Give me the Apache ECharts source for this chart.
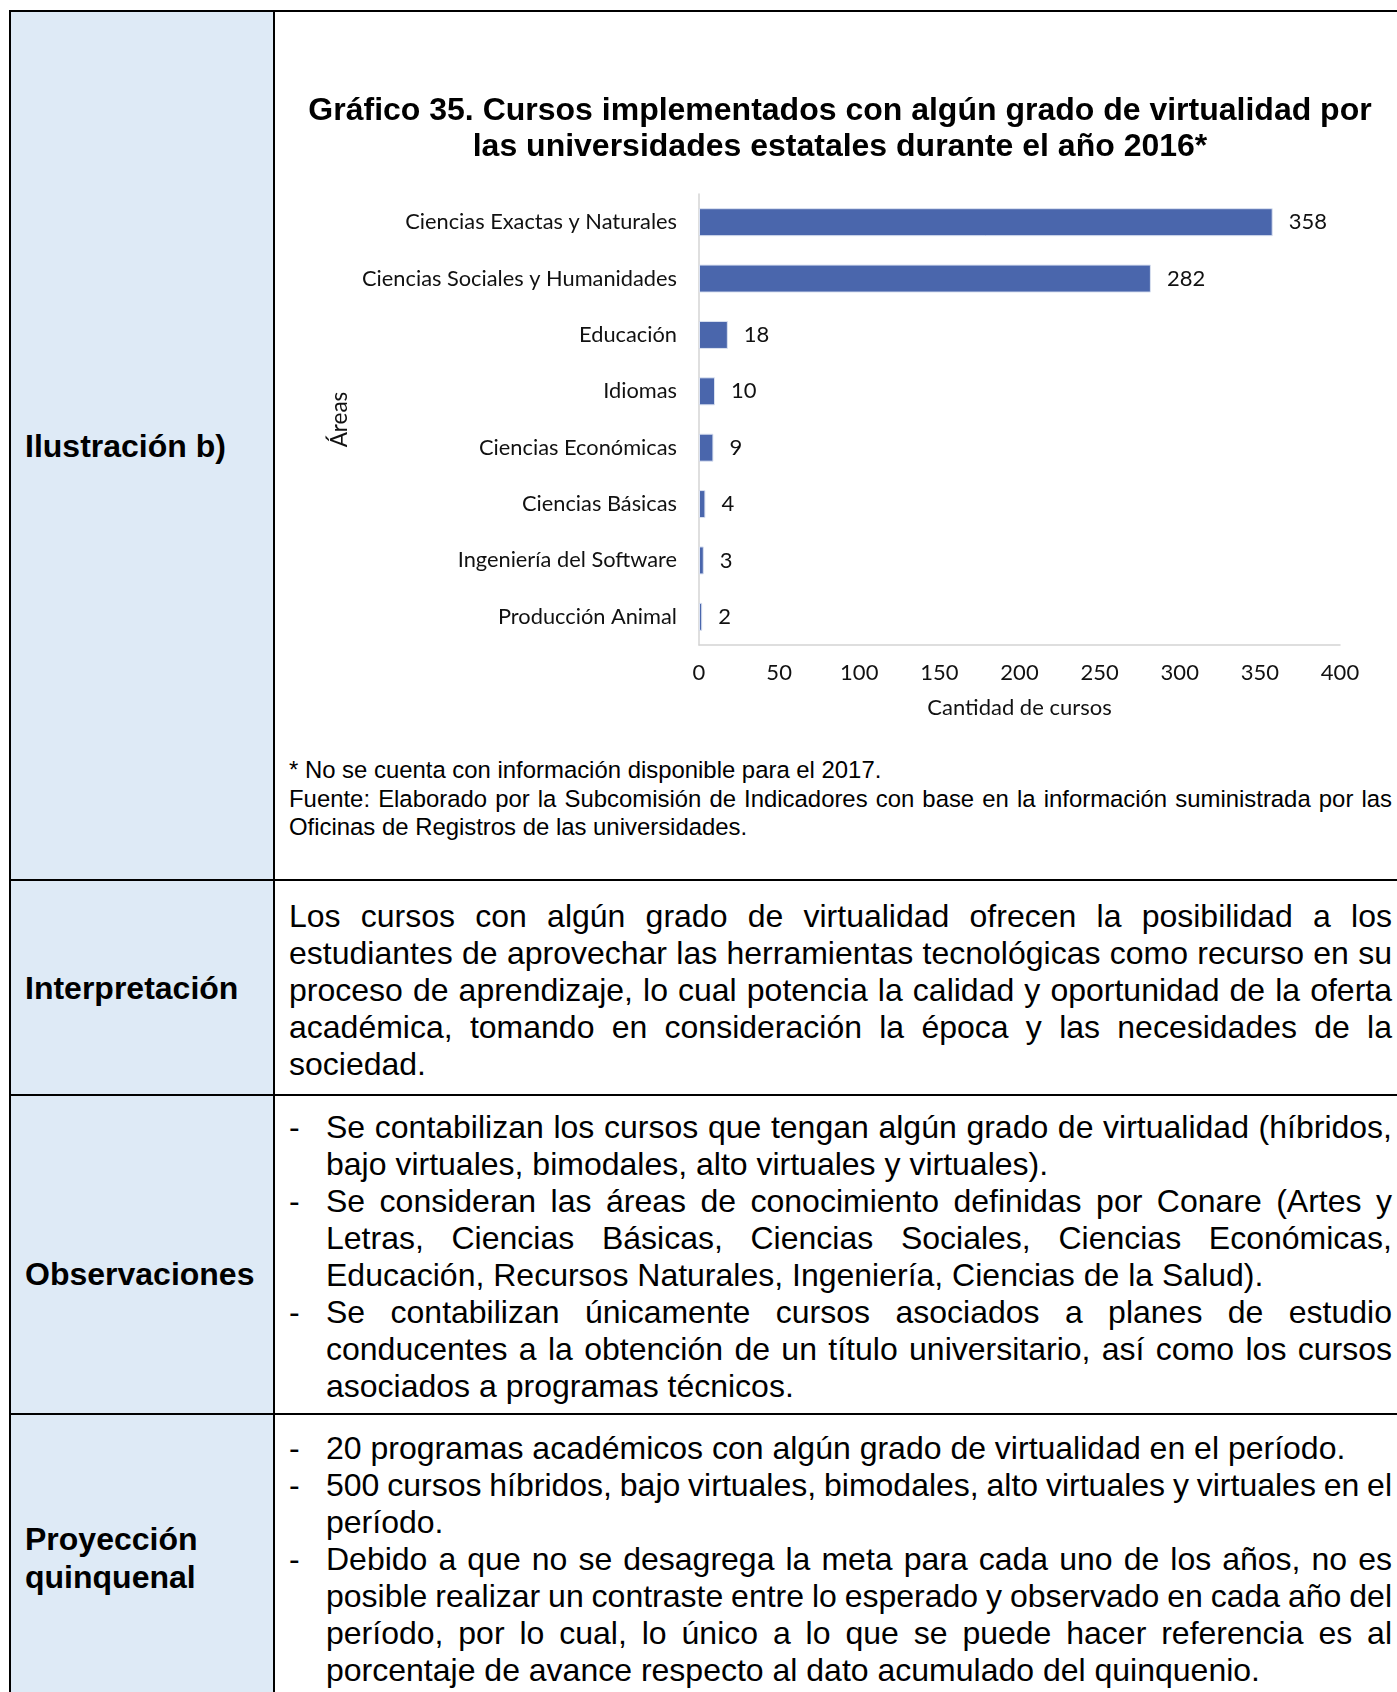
<!DOCTYPE html>
<html>
<head>
<meta charset="utf-8">
<title>Gráfico 35. Cursos con algún grado de virtualidad</title>
<script src="https://cdn.jsdelivr.net/npm/echarts@6/dist/echarts.min.js"></script>
<style>
	* {
		margin: 0;
		padding: 0;
	}
	html, body {
		width: 1397px;
		height: 1692px;
		overflow: hidden;
		background: #fff;
	}
	body {
		position: relative;
		font-family: 'Liberation Sans', Arial, sans-serif;
		color: #000;
	}
	.fill { position: absolute; left: 10px; top: 11px; width: 264px; height: 1700px; background: #DEEAF6; }
	.hline { position: absolute; left: 9px; width: 1400px; height: 2px; background: #000; }
	.vline { position: absolute; top: 10px; width: 2px; height: 1700px; background: #000; }
	.lbl { position: absolute; left: 25px; font-weight: bold; font-size: 32px; line-height: 37.5px; white-space: nowrap; }
	.txt { position: absolute; left: 289px; width: 1103px; font-size: 32px; line-height: 37px; text-align: justify; }
	.txt .j { text-align-last: justify; word-spacing: -4px; }
	.item { position: relative; padding-left: 37px; }
	.item .dash { position: absolute; left: 0; top: 0; }
	.note { position: absolute; left: 289px; top: 756px; width: 1103px; font-size: 23.9px; line-height: 28.5px; }
	.note .j { text-align: justify; text-align-last: justify; word-spacing: -3px; }
	#chart { position: absolute; left: 275px; top: 12px; width: 1130px; height: 740px; }
</style>
</head>
<body>
	<div class="fill"></div>
	<div class="hline" style="top:10px"></div>
	<div class="hline" style="top:879px"></div>
	<div class="hline" style="top:1094px"></div>
	<div class="hline" style="top:1413px"></div>
	<div class="vline" style="left:9px"></div>
	<div class="vline" style="left:273px"></div>

	<div id="chart"></div>

	<div class="note">
		<div>* No se cuenta con información disponible para el 2017.</div>
		<div class="j">Fuente: Elaborado por la Subcomisión de Indicadores con base en la información suministrada por las</div>
		<div>Oficinas de Registros de las universidades.</div>
	</div>

	<div class="lbl" style="top:428px">Ilustración b)</div>
	<div class="lbl" style="top:970px">Interpretación</div>
	<div class="lbl" style="top:1256px">Observaciones</div>
	<div class="lbl" style="top:1521px">Proyección<br>quinquenal</div>

	<div class="txt" style="top:898px">
		<div class="j">Los cursos con algún grado de virtualidad ofrecen la posibilidad a los</div>
		<div class="j">estudiantes de aprovechar las herramientas tecnológicas como recurso en su</div>
		<div class="j">proceso de aprendizaje, lo cual potencia la calidad y oportunidad de la oferta</div>
		<div class="j">académica, tomando en consideración la época y las necesidades de la</div>
		<div>sociedad.</div>
	</div>

	<div class="txt" style="top:1109px">
		<div class="item"><span class="dash">-</span>
			<div class="j">Se contabilizan los cursos que tengan algún grado de virtualidad (híbridos,</div>
			<div>bajo virtuales, bimodales, alto virtuales y virtuales).</div>
		</div>
		<div class="item"><span class="dash">-</span>
			<div class="j">Se consideran las áreas de conocimiento definidas por Conare (Artes y</div>
			<div class="j">Letras, Ciencias Básicas, Ciencias Sociales, Ciencias Económicas,</div>
			<div>Educación, Recursos Naturales, Ingeniería, Ciencias de la Salud).</div>
		</div>
		<div class="item"><span class="dash">-</span>
			<div class="j">Se contabilizan únicamente cursos asociados a planes de estudio</div>
			<div class="j">conducentes a la obtención de un título universitario, así como los cursos</div>
			<div>asociados a programas técnicos.</div>
		</div>
	</div>

	<div class="txt" style="top:1430px">
		<div class="item"><span class="dash">-</span>
			<div>20 programas académicos con algún grado de virtualidad en el período.</div>
		</div>
		<div class="item"><span class="dash">-</span>
			<div class="j">500 cursos híbridos, bajo virtuales, bimodales, alto virtuales y virtuales en el</div>
			<div>período.</div>
		</div>
		<div class="item"><span class="dash">-</span>
			<div class="j">Debido a que no se desagrega la meta para cada uno de los años, no es</div>
			<div class="j">posible realizar un contraste entre lo esperado y observado en cada año del</div>
			<div class="j">período, por lo cual, lo único a lo que se puede hacer referencia es al</div>
			<div>porcentaje de avance respecto al dato acumulado del quinquenio.</div>
		</div>
	</div>

	<script type="text/javascript">
		// datos del gráfico
		var areas = [
			'Ciencias Exactas y Naturales',
			'Ciencias Sociales y Humanidades',
			'Educación',
			'Idiomas',
			'Ciencias Económicas',
			'Ciencias Básicas',
			'Ingeniería del Software',
			'Producción Animal'
		];
		var cursos = [358, 282, 18, 10, 9, 4, 3, 2];
		var ejeX = { min: 0, max: 400, interval: 50 };

		var titulo = 'Gráfico 35. Cursos implementados con algún grado de virtualidad por\nlas universidades estatales durante el año 2016*';

		var myChart = echarts.init(document.getElementById('chart'));

		var option = {
			animation: false,
			textStyle: {
				fontFamily: 'Lato'
			},
			title: {
				text: titulo,
				left: 'center',
				top: 81,
				padding: 0,
				textStyle: {
					fontFamily: 'Liberation Sans',
					fontWeight: 'bold',
					fontSize: 32,
					lineHeight: 36,
					color: '#000'
				}
			},
			grid: {
				left: 424,
				top: 182,
				width: 641,
				height: 451,
				containLabel: false
			},
			xAxis: {
				type: 'value',
				min: ejeX.min,
				max: ejeX.max,
				interval: ejeX.interval,
				name: 'Cantidad de cursos',
				nameLocation: 'middle',
				nameGap: 52,
				nameTextStyle: { fontSize: 22, color: '#111' },
				axisLine: { show: true, lineStyle: { color: '#d4d4d4', width: 1.5 } },
				axisTick: { show: false },
				splitLine: { show: false },
				axisLabel: { fontSize: 22, color: '#111', margin: 17 }
			},
			yAxis: {
				type: 'category',
				inverse: true,
				data: areas,
				name: 'Áreas',
				nameLocation: 'middle',
				nameGap: 334,
				nameTextStyle: { fontSize: 22.5, color: '#111' },
				axisLine: { show: true, lineStyle: { color: '#d4d4d4', width: 1.5 } },
				axisTick: { show: false },
				axisLabel: { fontSize: 21.8, color: '#111', margin: 22 }
			},
			series: [{
				name: 'Cursos',
				type: 'bar',
				data: cursos,
				barWidth: 28,
				itemStyle: {
					color: '#4A66AC',
					borderColor: '#dbe2f1',
					borderWidth: 1
				},
				label: {
					show: true,
					position: 'right',
					distance: 16,
					fontSize: 22,
					color: '#111'
				}
			}]
		};

		myChart.setOption(option);
	</script>
</body>
</html>
